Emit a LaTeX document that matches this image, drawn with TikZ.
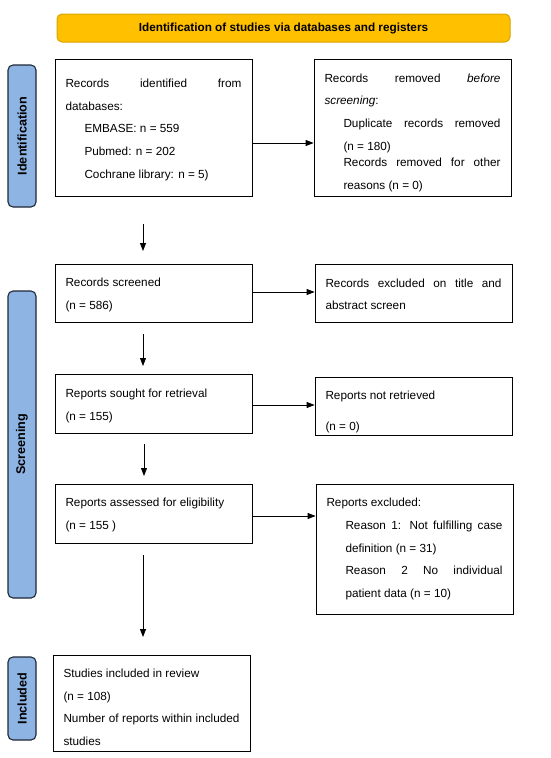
\documentclass[tikz,border=0pt]{standalone}
\usepackage{fontspec}
\setmainfont{Liberation Sans}
\usetikzlibrary{arrows.meta}
\hyphenpenalty=10000
\exhyphenpenalty=10000
\newcommand\tgap[1]{\rule{0pt}{#1}}
\definecolor{bannerfill}{HTML}{FFC000}
\definecolor{bannerdraw}{HTML}{D9A300}
\definecolor{sidefill}{HTML}{8EB4E3}
\definecolor{sidedraw}{HTML}{1E2838}
\tikzset{
  box/.style={draw=black, line width=0.8pt, rectangle, minimum width=197pt, text width=176pt,
    inner xsep=10.5pt, inner ysep=0pt, align=justify,
    font=\fontsize{11.75}{22.7}\selectfont},
  side/.style={draw=sidedraw, fill=sidefill, line width=1.1pt, rounded corners=5pt, minimum width=28pt,
    inner sep=0pt},
  sidelabel/.style={rotate=90, font=\fontsize{12.6}{14}\selectfont\bfseries},
  arr/.style={-{Triangle[length=8pt,width=6pt]}, line width=0.8pt},
}
\begin{document}
\begin{tikzpicture}[x=1pt,y=-1pt]
\useasboundingbox (0,0) rectangle (550,758);
% banner
\node[draw=bannerdraw, fill=bannerfill, line width=1pt, rounded corners=5pt, minimum width=453pt, minimum height=28pt,
  inner sep=0pt, font=\fontsize{11.75}{14}\selectfont\bfseries] (banner) at (283.5,28) {Identification of studies via databases and registers};
% sidebars
\node[side, minimum height=142pt] (sid) at (22,136) {};
\node[sidelabel] (sidl) at (sid.center) {Identification};
\node[side, minimum height=307pt] (sscr) at (22,444.5) {};
\node[sidelabel] (sscrl) at (sscr.center) {Screening};
\node[side, minimum height=83pt] (sinc) at (22,698.5) {};
\node[sidelabel] (sincl) at (sinc.center) {Included};
% boxes
\node[box, minimum height=137pt] (b1) at (153.5,127.5) {\tgap{13pt}%
Records identified from databases:\par
\leftskip=19pt EMBASE: n = 559\par
Pubmed: n = 202\par
Cochrane library: n = 5)\par};
\node[box, minimum height=137pt] (b2) at (412.5,127.5) {\tgap{19pt}%
Records removed \textit{before} \linebreak\textit{screening}:\par
\leftskip=19pt Duplicate records removed \linebreak(n = 180)\par\vspace{-6pt}
Records removed for other \linebreak reasons (n = 0)\par};
\node[box, minimum height=58pt] (b3) at (153.5,293) {\tgap{13pt}Records screened\\(n = 586)};
\node[box, minimum height=58pt] (b4) at (413.5,293) {\tgap{11pt}Records excluded on title and \linebreak abstract screen};
\node[box, minimum height=59pt] (b5) at (153.5,403.5) {\tgap{13pt}Reports sought for retrieval\\(n = 155)};
\node[box, minimum height=58pt] (b6) at (413.5,406) {\tgap{21pt}Reports not retrieved\\[8pt](n = 0)};
\node[box, minimum height=59pt] (b7) at (153.5,513.5) {\tgap{11pt}Reports assessed for eligibility\\(n = 155 )};
\node[box, minimum height=130pt] (b8) at (414.5,549) {%
Reports excluded:\par
\leftskip=19pt Reason 1: Not fulfilling case \linebreak definition (n = 31)\par
Reason 2 No individual \linebreak patient data (n = 10)\par};
\node[box, minimum height=96pt] (b9) at (151.5,703) {\tgap{17pt}Studies included in review\\(n = 108)\\Number of reports within included studies};
% connectors
\coordinate (d1s) at (143,224);
\coordinate (d1e) at (143,251);
\coordinate (d2s) at (143,334);
\coordinate (d2e) at (143,366);
\coordinate (d3s) at (144,444);
\coordinate (d3e) at (144,476);
\coordinate (d4s) at (143,555);
\coordinate (d4e) at (143,637);
\draw[arr] (b1.east |- 0,143) -- (b2.west |- 0,143);
\draw[arr] (d1s) -- (d1e);
\draw[arr] (b3.east |- 0,292) -- (b4.west |- 0,292);
\draw[arr] (d2s) -- (d2e);
\draw[arr] (b5.east |- 0,405) -- (b6.west |- 0,405);
\draw[arr] (d3s) -- (d3e);
\draw[arr] (b7.east |- 0,516) -- (b8.west |- 0,516);
\draw[arr] (d4s) -- (d4e);
\end{tikzpicture}
\end{document}
